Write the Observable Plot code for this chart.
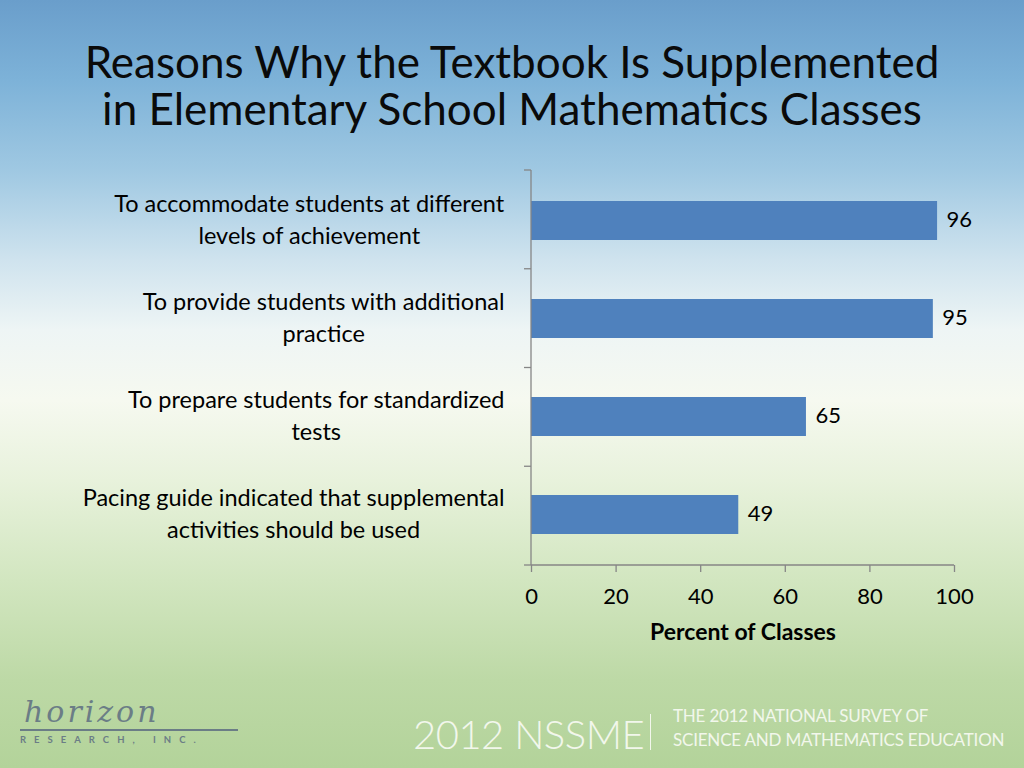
<!DOCTYPE html>
<html>
<head>
<meta charset="utf-8">
<script src="https://cdn.jsdelivr.net/npm/d3@7"></script>
<script src="https://cdn.jsdelivr.net/npm/@observablehq/plot@0.6"></script>
<style>
  html, body { margin: 0; padding: 0; }
  #slide {
    position: relative; width: 1024px; height: 768px; overflow: hidden;
    font-family: Lato, "Open Sans", sans-serif; color: #000;
    background: linear-gradient(to bottom,
      #6a9ecb 0px, #7db2d8 80px, #9fc8e2 170px, #cfe3ee 260px,
      #eef5f5 330px, #f6f9f0 400px, #e8f2dc 480px, #d2e6c0 580px,
      #bdd9a6 680px, #b3d39a 768px);
  }
  #title {
    position: absolute; left: 0; top: 38px; width: 1024px; text-align: center;
    font-size: 44px; line-height: 47px; color: #0a0a0a;
  }
  #chart { position: absolute; left: 0; top: 150px; }
  #nssme {
    position: absolute; left: 413px; top: 704px; font-size: 40px; font-weight: 300;
    color: #f2f7ec; letter-spacing: -0.5px; line-height: 60px;
  }
  #bar { position: absolute; left: 650px; top: 714px; width: 1px; height: 36px; background: #f2f7ec; }
  #survey {
    position: absolute; left: 673px; top: 704px; font-size: 17px; line-height: 24px;
    color: #f2f7ec; letter-spacing: -0.2px;
  }
  #logo { position: absolute; left: 20px; top: 695px; color: #6b7d86; }
  #logo .script { font-family: "DejaVu Serif", serif; font-style: italic; font-size: 30px; letter-spacing: 3px; line-height: 34px; padding-left: 4px; }
  #logo .rule { width: 218px; height: 2px; background: #6b7d86; margin-top: 0px; }
  #logo .inc { font-size: 9.5px; letter-spacing: 8px; margin-top: 3px; font-weight: bold; }
</style>
</head>
<body>
<div id="slide">
  <div id="title">Reasons Why the Textbook Is Supplemented<br>in Elementary School Mathematics Classes</div>
  <div id="chart"></div>
  <div id="logo"><div class="script">horizon</div><div class="rule"></div><div class="inc">RESEARCH, INC.</div></div>
  <div id="nssme">2012 NSSME</div>
  <div id="bar"></div>
  <div id="survey">THE 2012 NATIONAL SURVEY OF<br>SCIENCE AND MATHEMATICS EDUCATION</div>
</div>
<script>
const categories = [
  "To accommodate students at different\nlevels of achievement",
  "To provide students with additional\npractice",
  "To prepare students for standardized\ntests",
  "Pacing guide indicated that supplemental\nactivities should be used"
];
const values = [96, 95, 65, 49];
const xTicks = [0, 20, 40, 60, 80, 100];
const xLabel = "Percent of Classes";

const data = categories.map((c, i) => ({category: c, value: values[i]}));
const axisColor = "#868686";

// Excel-style axis lines with ticks between categories
function axes(index, scales, values, dims) {
  const g = d3.create("svg:g");
  const left = dims.marginLeft, right = dims.width - dims.marginRight;
  const top = dims.marginTop, bottom = dims.height - dims.marginBottom;
  const n = categories.length;
  g.append("line").attr("x1", left).attr("x2", left).attr("y1", top).attr("y2", bottom)
    .attr("stroke", axisColor).attr("stroke-width", 1.3);
  g.append("line").attr("x1", left).attr("x2", right).attr("y1", bottom).attr("y2", bottom)
    .attr("stroke", axisColor).attr("stroke-width", 1.3);
  for (let i = 0; i <= n; i++) {
    const y = top + i * (bottom - top) / n;
    g.append("line").attr("x1", left - 7).attr("x2", left).attr("y1", y).attr("y2", y)
      .attr("stroke", axisColor).attr("stroke-width", 1.3);
  }
  return g.node();
}

const plot = Plot.plot({
  width: 1024,
  height: 500,
  marginLeft: 531,
  marginRight: 70,
  marginTop: 20,
  marginBottom: 85,
  style: {background: "transparent", fontFamily: "Lato, 'Open Sans', sans-serif", color: "#000", overflow: "visible"},
  x: {domain: [0, 100], axis: null},
  y: {domain: categories, paddingInner: 0.6, paddingOuter: 0.3, axis: null},
  marks: [
    Plot.barX(data, {x: "value", y: "category", fill: "#4f81bd"}),
    axes,
    Plot.axisX(xTicks, {tickSize: 7, tickPadding: 16, fontSize: 22, stroke: axisColor, strokeWidth: 1.3, color: "#000", label: null, tickFormat: d => String(d)}),
    Plot.text(data, {x: "value", y: "category", text: d => String(d.value), textAnchor: "start", dx: 9, dy: -1, fontSize: 22, fill: "#000"}),
    Plot.text(categories, {y: d => d, text: d => d, frameAnchor: "left", textAnchor: "middle", lineHeight: 1.34, dy: -3, fontSize: 23.5, fill: "#000"}),
    Plot.text([xLabel], {frameAnchor: "bottom", text: d => d, dy: 67, lineAnchor: "middle", fontSize: 23, fontWeight: "bold", fill: "#000"})
  ]
});
document.getElementById("chart").appendChild(plot);

// Right-align each label block against the axis while centering its lines
const rightEdge = 504, axisX = 531;
const flat = new Set(categories.map(c => c.replace(/\n/g, "")));
plot.querySelectorAll("text").forEach(t => {
  if (!flat.has(t.textContent.replace(/\n/g, ""))) return;
  const w = t.getBBox().width;
  const shift = (rightEdge - w / 2) - axisX;
  const tr = t.getAttribute("transform") || "";
  t.setAttribute("transform", tr + ` translate(${shift},0)`);
});
</script>
</body>
</html>
